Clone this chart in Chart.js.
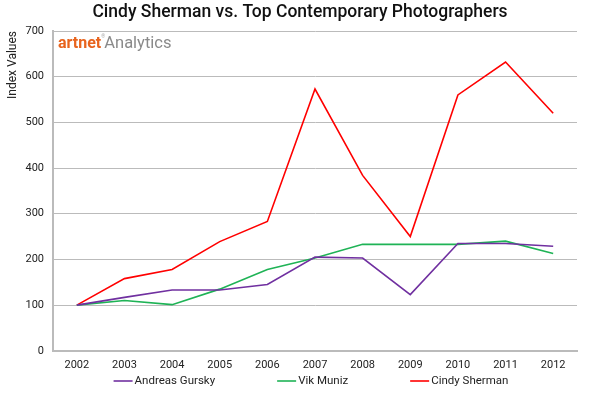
<!DOCTYPE html>
<html>
<head>
<meta charset="utf-8">
<script src="https://cdn.jsdelivr.net/npm/chart.js@4/dist/chart.umd.min.js"></script>
<style>
  html, body { margin: 0; padding: 0; background: #fff; }
  #wrap { width: 600px; height: 395px; }
</style>
</head>
<body>
<div id="wrap"><canvas id="chart" width="600" height="395"></canvas></div>
<script>
const years = ['2002', '2003', '2004', '2005', '2006', '2007', '2008', '2009', '2010', '2011', '2012'];
const gursky = [100, 117, 133, 133, 145, 205, 203, 123, 235, 235, 229];
const muniz = [100, 110, 101, 135, 178, 203, 233, 233, 233, 240, 213];
const sherman = [100, 158, 178, 239, 283, 573, 384, 250, 560, 632, 520];

const chartTitle = 'Cindy Sherman vs. Top Contemporary Photographers';
const fontFamily = 'Roboto, "DejaVu Sans", sans-serif';

// page title, centred on the whole canvas
const titlePlugin = {
    id: 'pageTitle',
    afterDraw(chart) {
        const ctx = chart.ctx;
        ctx.save();
        ctx.font = '500 17.5px ' + fontFamily;
        ctx.fillStyle = '#111';
        ctx.textAlign = 'center';
        ctx.textBaseline = 'middle';
        ctx.fillText(chartTitle, 300, 13);
        ctx.restore();
    }
};

// artnet Analytics logo inside the plot area
const logoPlugin = {
    id: 'logo',
    afterDraw(chart) {
        const ctx = chart.ctx;
        const x = chart.chartArea.left + 5;
        const y = chart.chartArea.top + 17;
        ctx.save();
        ctx.textBaseline = 'alphabetic';
        ctx.font = 'bold 16px ' + fontFamily;
        ctx.fillStyle = '#e8641e';
        ctx.fillText('artnet', x, y);
        const w = ctx.measureText('artnet').width;
        ctx.font = '5px ' + fontFamily;
        ctx.fillStyle = '#aaa';
        ctx.fillText('\u00ae', x + w, y - 10);
        ctx.font = '16.5px ' + fontFamily;
        ctx.fillStyle = '#8a8a8a';
        ctx.fillText('Analytics', x + w + 3, y);
        ctx.restore();
    }
};

// wide-spaced legend under the axis, built from the datasets
const legendPlugin = {
    id: 'wideLegend',
    afterDraw(chart) {
        const ctx = chart.ctx;
        const sets = chart.data.datasets;
        const lineLen = 19, gap = 2, spacing = 62;
        ctx.save();
        ctx.font = '11.5px ' + fontFamily;
        const widths = sets.map(ds => lineLen + gap + ctx.measureText(ds.label).width);
        const total = widths.reduce((a, b) => a + b, 0) + spacing * (sets.length - 1);
        let x = (chart.width - total) / 2 + 11;
        const y = 381;
        sets.forEach((ds, i) => {
            ctx.strokeStyle = ds.borderColor;
            ctx.lineWidth = 1.6;
            ctx.beginPath();
            ctx.moveTo(x, y);
            ctx.lineTo(x + lineLen, y);
            ctx.stroke();
            ctx.fillStyle = '#222';
            ctx.textBaseline = 'middle';
            ctx.fillText(ds.label, x + lineLen + gap, y);
            x += widths[i] + spacing;
        });
        ctx.restore();
    }
};

function makeSet(label, data, color) {
    return {
        label: label,
        data: data,
        borderColor: color,
        backgroundColor: color,
        borderWidth: 1.6,
        pointRadius: 0,
        pointHoverRadius: 0,
        tension: 0,
        fill: false
    };
}

new Chart(document.getElementById('chart'), {
    type: 'line',
    data: {
        labels: years,
        datasets: [
            makeSet('Andreas Gursky', gursky, '#7030a0'),
            makeSet('Vik Muniz', muniz, '#1fb356'),
            makeSet('Cindy Sherman', sherman, '#ff0000')
        ]
    },
    options: {
        responsive: false,
        animation: false,
        layout: { padding: { left: 2, right: 23, top: 31, bottom: 15 } },
        plugins: {
            title: { display: false },
            legend: { display: false },
            tooltip: { enabled: false }
        },
        scales: {
            x: {
                offset: true,
                grid: { display: false, drawTicks: false },
                border: { color: '#bbb', width: 2 },
                ticks: { color: '#222', padding: 8, font: { family: fontFamily, size: 11 } }
            },
            y: {
                min: 0,
                max: 700,
                ticks: { stepSize: 100, color: '#222', padding: 9, font: { family: fontFamily, size: 11 } },
                grid: { color: '#bbb', lineWidth: 1, drawTicks: false },
                border: { color: '#bbb', width: 2 },
                title: {
                    display: true,
                    text: 'Index Values',
                    align: 'end',
                    color: '#222',
                    font: { family: fontFamily, size: 12 },
                    padding: { top: 4, bottom: 2 }
                },
                afterFit(scale) { scale.width = 51; }
            }
        }
    },
    plugins: [titlePlugin, logoPlugin, legendPlugin]
});
</script>
</body>
</html>
